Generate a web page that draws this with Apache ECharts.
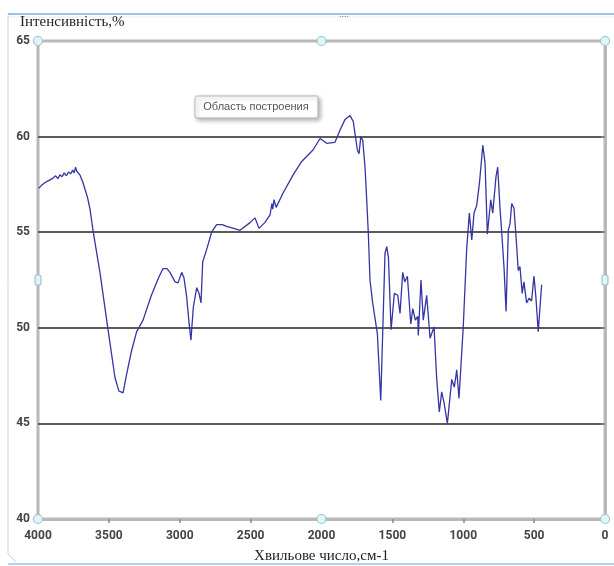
<!DOCTYPE html>
<html>
<head>
<meta charset="utf-8">
<script src="https://cdn.jsdelivr.net/npm/echarts@6/dist/echarts.min.js"></script>
<style>
html,body{margin:0;padding:0;background:#fff;}
#chart{width:614px;height:566px;}
</style>
</head>
<body>
<div id="chart"></div>
<script>
// Wavenumber (cm-1) and intensity (%)
var wavenumbers = [3995,3985,3975,3965,3950,3940,3925,3915,3900,3890,3875,3860,3845,3830,3815,3800,3785,3770,3755,3745,3735,3727,3715,3705,
  3683,3650,3633,3610,3590,3563,3506,3457,3430,3400,3374,3340,3304,3259,3200,3150,3118,3090,3069,3033,3012,2986,2970,2951,2935,2921,
  2904,2880,2864,2850,2838,2810,2775,2740,2700,2669,2620,2575,2504,2469,2441,2400,2363,2350,2344,2335,2320,2271,2200,2140,2060,2010,
  1963,1905,1869,1834,1799,1776,1747,1735,1723,1709,1693,1681,1670,1658,1639,1627,1606,1582,1552,1540,1528,1509,1486,1462,1446,
  1427,1413,1394,1370,1356,1338,1321,1317,1298,1282,1258,1234,1206,1187,1169,1152,1136,1112,1081,1063,1046,1030,1000,976,957,940,
  924,905,886,862,846,830,806,792,769,757,741,727,712,698,682,670,658,642,623,612,600,584,572,553,535,518,501,487,471,447];
var intensity = [57.3,57.4,57.45,57.4,57.6,57.5,57.7,57.6,57.8,57.7,57.95,57.8,58.0,57.9,58.1,57.95,58.15,58.05,58.25,58.1,58.4,58.2,58.3,58.0,
  57.6,56.8,56.2,55.0,54.1,52.9,49.9,47.4,46.7,46.6,47.6,48.8,49.8,50.4,51.7,52.6,53.1,53.1,52.9,52.4,52.35,52.9,52.6,51.6,50.3,49.35,
  51.1,52.1,51.8,51.3,53.45,54.1,55.0,55.4,55.4,55.3,55.2,55.1,55.5,55.75,55.2,55.5,55.9,56.5,56.2,56.7,56.3,57.05,58.0,58.7,59.3,59.9,
  59.65,59.7,60.35,60.9,61.1,60.8,59.3,59.1,60.0,59.8,58.4,56.7,55.0,52.5,51.3,51.4,49.7,46.2,53.9,54.25,53.7,49.9,51.8,51.7,50.75,
  52.9,52.4,52.7,50.2,51.0,50.4,50.6,49.6,52.5,50.4,51.7,49.45,50.05,47.3,45.6,46.65,46.1,45.0,47.3,46.9,47.8,46.3,50.05,54.1,56.0,54.6,
  56.0,56.4,57.55,59.55,58.6,54.9,56.7,56.0,57.9,58.4,56.3,54.8,53.1,50.85,55.1,55.45,56.5,56.25,54.25,53.0,53.2,51.8,52.4,51.3,51.55,51.4,52.7,51.55,49.8,52.25];
var xTicks = [4000,3500,3000,2500,2000,1500,1000,500,0];
var yTicks = [40,45,50,55,60,65];
var yTitle = 'Інтенсивність,%';
var xTitle = 'Хвильове число,см-1';
var plotLabel = 'Область построения';

var points = wavenumbers.map(function(w,i){return [w,intensity[i]];});
var chart = echarts.init(document.getElementById('chart'));
var splitColors = yTicks.map(function(v,i){return (i===0||i===yTicks.length-1)?'#b8b8b8':'#5a5a5a';});
var plain = function(v){return String(v);};

chart.setOption({
  animation:false,
  backgroundColor:'#fff',
  grid:{left:38,right:9,top:41,bottom:47,outerBoundsMode:'none',show:true,borderColor:'#b8b8b8',borderWidth:3,backgroundColor:'transparent'},
  xAxis:{type:'value',inverse:true,min:xTicks[xTicks.length-1],max:xTicks[0],interval:500,
    name:xTitle,nameLocation:'middle',nameGap:30,
    nameTextStyle:{fontFamily:'Liberation Serif',fontSize:15,color:'#222'},
    axisLine:{show:true,lineStyle:{color:'#b8b8b8',width:3}},
    axisTick:{show:true,length:4,lineStyle:{color:'#888',width:1.5}},
    axisLabel:{margin:11,fontFamily:'Roboto',fontWeight:'bold',fontSize:12,color:'#444',formatter:plain},
    splitLine:{show:false}},
  yAxis:{type:'value',min:yTicks[0],max:yTicks[yTicks.length-1],interval:5,
    axisLine:{show:true,lineStyle:{color:'#b8b8b8',width:3}},
    axisTick:{show:true,length:4,lineStyle:{color:'#888',width:1.5}},
    axisLabel:{margin:8,fontFamily:'Roboto',fontWeight:'bold',fontSize:12,color:'#444',formatter:plain},
    splitLine:{show:true,lineStyle:{color:splitColors,width:2}}},
  series:[{type:'line',data:points,showSymbol:false,symbol:'none',
    lineStyle:{color:'#3535a3',width:1.3},z:5}],
  graphic:[]
});

// decorative frame, title and selection handles positioned from the chart's own scale
var p = function(x,y){return chart.convertToPixel({gridIndex:0},[x,y]);};
var xl=xTicks[0], xr=xTicks[xTicks.length-1], xm=(xl+xr)/2;
var yb=yTicks[0], yt=yTicks[yTicks.length-1], ym=(yb+yt)/2;
var g=[];
g.push({type:'line',shape:{x1:8,y1:14,x2:614,y2:14},style:{stroke:'#9fbfe8',lineWidth:2},z:1});
g.push({type:'line',shape:{x1:8,y1:17,x2:614,y2:17},style:{stroke:'#e3ecf7',lineWidth:1},z:1});
g.push({type:'line',shape:{x1:8,y1:15,x2:8,y2:554},style:{stroke:'#cfcfcf',lineWidth:1},z:1});
g.push({type:'line',shape:{x1:8,y1:554,x2:16,y2:562},style:{stroke:'#cfcfcf',lineWidth:1},z:1});
g.push({type:'line',shape:{x1:8,y1:564,x2:614,y2:564},style:{stroke:'#b6cfee',lineWidth:2},z:-1});
g.push({type:'text',left:339,top:10,style:{text:'....',fill:'#777',font:'9px sans-serif'},z:2});
g.push({type:'text',left:20,top:15,style:{text:yTitle,fill:'#222',font:'15px "Liberation Serif"'},z:10});
g.push({type:'rect',shape:{x:195,y:96,width:123,height:22,r:2},style:{fill:'#fff',stroke:'#b5b5b5',lineWidth:1,shadowBlur:4,shadowColor:'rgba(0,0,0,0.3)',shadowOffsetX:2,shadowOffsetY:2},z:20});
g.push({type:'text',x:256,y:107,style:{text:plotLabel,fill:'#555',font:'11px "Liberation Sans"',align:'center',verticalAlign:'middle'},z:21});
[[xl,yt],[xm,yt],[xr,yt],[xl,yb],[xm,yb],[xr,yb]].forEach(function(c){
  var q=p(c[0],c[1]);
  g.push({type:'circle',shape:{cx:q[0],cy:q[1],r:4.5},style:{fill:'#e2f4f8',stroke:'#9cc6d2',lineWidth:1.2},z:30});
});
[[xl,ym],[xr,ym]].forEach(function(c){
  var q=p(c[0],c[1]);
  g.push({type:'rect',shape:{x:q[0]-3,y:q[1]-5,width:6,height:10,r:2},style:{fill:'#e2f4f8',stroke:'#9cc6d2',lineWidth:1.2},z:30});
});
chart.setOption({graphic:g});
</script>
</body>
</html>
